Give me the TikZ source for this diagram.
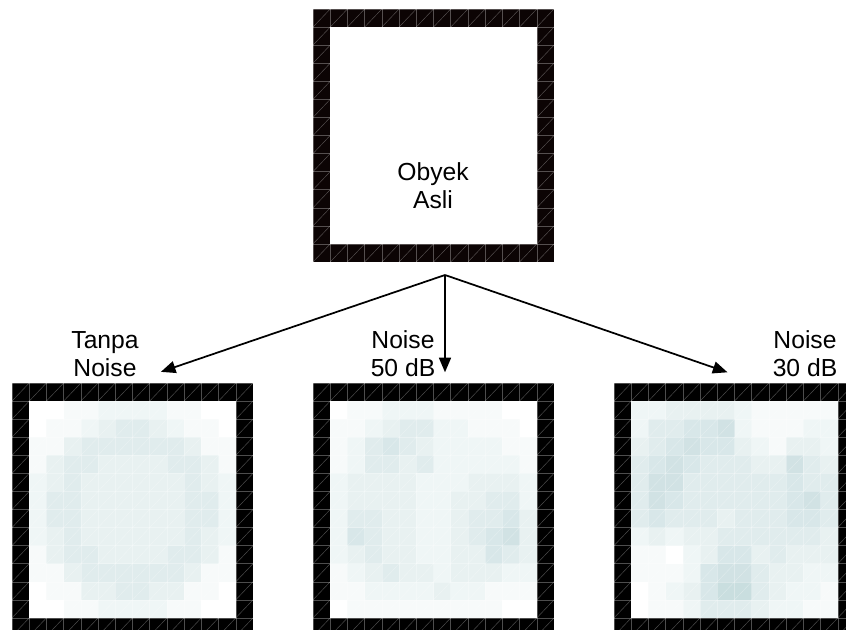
\documentclass[tikz,border=0pt]{standalone}
\usepackage{fontspec}
\setmainfont{Liberation Sans}
\usetikzlibrary{arrows.meta}

\definecolor{imgbase}{RGB}{100,160,165}
\definecolor{topframe}{RGB}{12,4,4}
\def\cellw{17.214}
\def\cellh{18.07}

% frame of one 14x14 image, white inside
\newcommand{\imageframe}[3]{%
  \fill[#3] (#1,#2) rectangle ++(14*\cellw,14*\cellh);
  \fill[white] ({#1+\cellw},{#2+\cellh}) rectangle ++(12*\cellw,12*\cellh);
}
% inner 12x12 cells, one row of shades per entry
\newcommand{\imagecells}[3]{%
  \foreach \row [count=\r] in {#3} {
    \foreach \v [count=\c] in \row {
      \pgfmathtruncatemacro{\pct}{\v*5}
      \fill[imgbase!\pct!white] ({#1+\c*\cellw},{#2+\r*\cellh}) rectangle ++(\cellw,\cellh);
    }
  }
}
% thin mesh over the whole image
\newcommand{\imagemesh}[2]{%
  \begin{scope}
    \clip (#1,#2) rectangle ++(14*\cellw,14*\cellh);
    \foreach \i in {0,...,14} {
      \draw[meshline] ({#1+\i*\cellw},#2) -- ++(0,14*\cellh);
      \draw[meshline] (#1,{#2+\i*\cellh}) -- ++(14*\cellw,0);
    }
    \foreach \a in {-13,...,13}
      \draw[meshline] ({#1+\a*\cellw},{#2+14*\cellh}) -- ++(14*\cellw,-14*\cellh);
  \end{scope}
}

\begin{document}
\begin{tikzpicture}[x=0.75pt, y=-0.75pt,
  lbl/.style={align=center, inner sep=0pt, font=\fontsize{18.5}{21}\selectfont},
  link/.style={line width=1.3pt, -{Triangle[length=11pt,width=9pt]}},
  meshline/.style={white, opacity=0.3, line width=0.35pt}]
  \clip (0,0) rectangle (846,630); % page size

  % original object
  \imageframe{313}{9}{topframe}
  \imagemesh{313}{9}

  % without noise
  \imageframe{12}{383}{black}
  \imagecells{12}{383}{
    {0,0,1,1,2,2,2,2,1,1,0,0},
    {0,1,1,2,3,4,4,3,2,1,1,0},
    {1,1,3,4,4,4,4,4,4,3,1,1},
    {1,3,4,4,3,3,3,3,4,4,3,1},
    {2,3,4,3,3,3,3,3,3,4,3,2},
    {2,4,4,3,3,3,3,3,3,4,4,2},
    {2,4,4,3,3,3,3,3,3,4,4,2},
    {2,3,4,3,3,3,3,3,3,4,3,2},
    {1,3,4,4,3,3,3,3,4,4,3,1},
    {1,1,3,4,4,4,4,4,4,3,1,1},
    {0,1,1,3,3,4,4,3,3,1,1,0},
    {0,0,1,1,2,2,2,2,1,1,0,0}}
  \imagemesh{12}{383}

  % noise 50 dB
  \imageframe{313}{383}{black}
  \imagecells{313}{383}{
    {0,1,1,2,2,2,1,1,1,1,0,0},
    {1,1,2,3,4,4,2,2,1,1,1,0},
    {1,2,4,5,4,3,2,2,2,2,1,1},
    {1,2,4,4,3,4,2,2,2,2,2,1},
    {2,3,3,3,3,2,2,2,3,3,3,2},
    {2,3,3,3,3,2,2,3,3,4,4,2},
    {2,4,4,3,3,2,2,3,4,4,5,3},
    {2,5,4,3,3,2,2,3,4,5,6,3},
    {2,3,4,3,3,2,2,3,3,5,4,3},
    {1,2,3,4,3,3,2,3,3,3,2,2},
    {1,1,2,2,2,2,3,2,2,1,1,1},
    {0,1,1,1,1,1,1,1,1,1,0,0}}
  \imagemesh{313}{383}

  % noise 30 dB
  \imageframe{614}{383}{black}
  \imagecells{614}{383}{
    {2,2,3,3,3,3,2,1,1,1,1,1},
    {2,4,4,5,5,6,2,1,1,1,2,2},
    {3,4,5,6,5,5,3,2,1,3,3,2},
    {4,5,6,5,4,4,4,3,3,6,4,3},
    {4,6,6,4,4,4,4,4,4,5,4,4},
    {4,6,5,4,4,4,4,4,4,5,6,4},
    {4,5,4,4,4,3,4,4,4,5,5,4},
    {2,3,2,3,3,4,4,4,4,4,4,3},
    {1,1,0,2,3,5,5,3,4,3,3,3},
    {1,1,1,2,5,6,6,4,3,3,2,2},
    {0,1,2,3,5,7,7,4,3,2,2,1},
    {0,1,1,2,4,4,4,3,2,2,1,1}}
  \imagemesh{614}{383}

  % labels
  \node[lbl] (orig) at (433,186) {Obyek\\Asli};
  \node[lbl] (clean) at (105,354) {Tanpa\\Noise};
  \node[lbl] (snr50) at (403,354) {Noise\\50 dB};
  \node[lbl] (snr30) at (805,354) {Noise\\30 dB};

  % arrows
  \coordinate (split) at (445,275);
  \draw[link] (split) -- ([shift={(22,-5)}]clean.south east);
  \draw[link] (split) -- ([yshift=3.75pt]split |- snr50.south);
  \draw[link] (split) -- ([shift={(-45,-5)}]snr30.south west);
\end{tikzpicture}
\end{document}
